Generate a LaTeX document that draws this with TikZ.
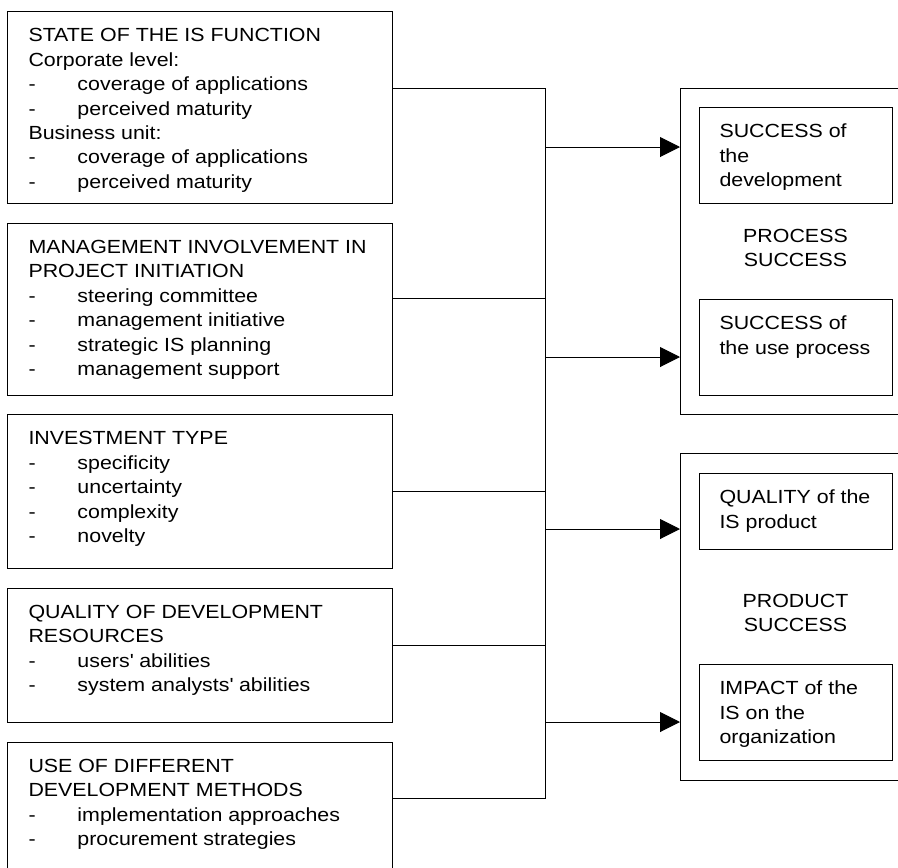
\documentclass[tikz,border=0pt]{standalone}
\usepackage{fontspec}
\setmainfont{Liberation Sans}[FakeStretch=1.125]
\usetikzlibrary{arrows.meta}
\newcommand{\itm}[1]{\makebox[49pt][l]{-}#1}

\begin{document}
\begin{tikzpicture}[x=1pt, y=-1pt, line width=1pt,
 factor/.style={draw, rectangle, anchor=north west, inner sep=0pt, outer sep=0pt, minimum width=384.5pt},
 group/.style={draw, rectangle, anchor=north west, inner sep=0pt, outer sep=0pt, minimum width=231pt},
 result/.style={draw, rectangle, anchor=north west, inner sep=0pt, outer sep=0pt, minimum width=193pt, minimum height=96pt},
 txt/.style={anchor=north west, inner sep=0pt, align=left, font=\fontsize{19}{24.4}\selectfont},
 ctxt/.style={anchor=north, inner sep=0pt, align=center, font=\fontsize{19}{24.4}\selectfont},
 arr/.style={-{Triangle[length=20pt,width=20pt]}}]
 \useasboundingbox (0,0) rectangle (898,868);

 \node (F1) [factor, minimum height=191.5pt] at (7.5,11.5) {};
 \node (F2) [factor, minimum height=172.5pt] at (7.5,223) {};
 \node (F3) [factor, minimum height=153.5pt] at (7.5,414.5) {};
 \node (F4) [factor, minimum height=134pt] at (7.5,588) {};
 \node (F5) [factor, minimum height=140pt] at (7.5,742) {};

 \node (T1) [txt] at ([xshift=20.5pt,yshift=-16.7pt]F1.north west) {STATE OF THE IS FUNCTION\\Corporate level:\\\itm{coverage of applications}\\\itm{perceived maturity}\\Business unit:\\\itm{coverage of applications}\\\itm{perceived maturity}};
 \node (T2) [txt] at ([xshift=20.5pt,yshift=-16.7pt]F2.north west) {MANAGEMENT INVOLVEMENT IN\\PROJECT INITIATION\\\itm{steering committee}\\\itm{management initiative}\\\itm{strategic IS planning}\\\itm{management support}};
 \node (T3) [txt] at ([xshift=20.5pt,yshift=-16.7pt]F3.north west) {INVESTMENT TYPE\\\itm{specificity}\\\itm{uncertainty}\\\itm{complexity}\\\itm{novelty}};
 \node (T4) [txt] at ([xshift=20.5pt,yshift=-16.7pt]F4.north west) {QUALITY OF DEVELOPMENT\\RESOURCES\\\itm{users\textquotesingle{} abilities}\\\itm{system analysts\textquotesingle{} abilities}};
 \node (T5) [txt] at ([xshift=20.5pt,yshift=-16.7pt]F5.north west) {USE OF DIFFERENT\\DEVELOPMENT METHODS\\\itm{implementation approaches}\\\itm{procurement strategies}};

 \node (P) [group, minimum height=326pt] at (680,88) {};
 \node (Q) [group, minimum height=327pt] at (680,453) {};

 \node (P1) [result] at (699,107) {};
 \node (P2) [result] at (699,299) {};
 \node (Q1) [result, minimum height=76pt] at (699,473) {};
 \node (Q2) [result] at (699,664) {};

 \node (P1T) [txt] at ([xshift=20pt,yshift=-16.7pt]P1.north west) {SUCCESS of\\the\\development};
 \node (P2T) [txt] at ([xshift=20pt,yshift=-16.7pt]P2.north west) {SUCCESS of\\the use process};
 \node (Q1T) [txt] at ([xshift=20pt,yshift=-16.7pt]Q1.north west) {QUALITY of the\\IS product};
 \node (Q2T) [txt] at ([xshift=20pt,yshift=-16.7pt]Q2.north west) {IMPACT of the\\IS on the\\organization};

 \node (PL) [ctxt] at (795.5,228.5) {PROCESS\\SUCCESS};
 \node (QL) [ctxt] at (795.5,593.5) {PRODUCT\\SUCCESS};

 \coordinate (B1) at (545.5,88);
 \coordinate (B2) at (545.5,298);
 \coordinate (B3) at (545.5,491);
 \coordinate (B4) at (545.5,645);
 \coordinate (B5) at (545.5,798);
 \coordinate (A1) at (545.5,147);
 \coordinate (A2) at (545.5,357);
 \coordinate (A3) at (545.5,529);
 \coordinate (A4) at (545.5,722);

 \draw (F1.east |- B1) -- (B1);
 \draw (F2.east |- B2) -- (B2);
 \draw (F3.east |- B3) -- (B3);
 \draw (F4.east |- B4) -- (B4);
 \draw (F5.east |- B5) -- (B5);
 \draw (B1) -- (B5);

 \draw[arr] (A1) -- (P.west |- A1);
 \draw[arr] (A2) -- (P.west |- A2);
 \draw[arr] (A3) -- (Q.west |- A3);
 \draw[arr] (A4) -- (Q.west |- A4);
\end{tikzpicture}
\end{document}
